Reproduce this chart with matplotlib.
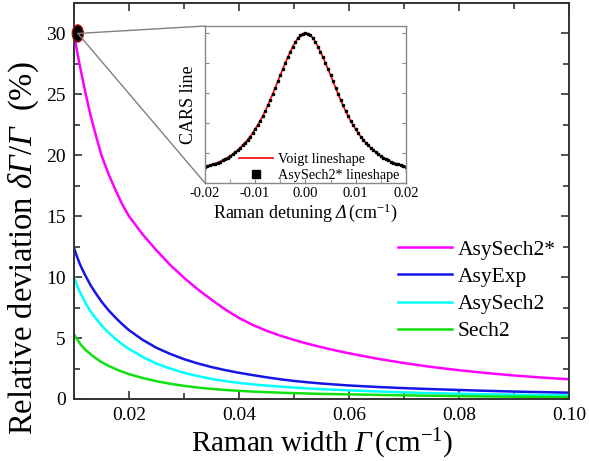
import numpy as np
import matplotlib
matplotlib.use('Agg')
from matplotlib import pyplot as plt
from matplotlib.patches import Ellipse, ConnectionPatch
from matplotlib.ticker import MultipleLocator, NullFormatter

plt.rcParams['font.family'] = ['Liberation Serif', 'DejaVu Serif']
plt.rcParams['mathtext.fontset'] = 'custom'
plt.rcParams['mathtext.rm'] = 'Liberation Serif'
plt.rcParams['mathtext.it'] = 'Liberation Serif:italic'
# italic font under \mathsf so capital Greek letters come out slanted
plt.rcParams['mathtext.sf'] = 'Liberation Serif:italic'
plt.rcParams['axes.unicode_minus'] = False

# Raman width (cm^-1) and relative deviation (%) for each lineshape model
width = [0.010, 0.0105, 0.011, 0.0115, 0.012, 0.013, 0.014, 0.015, 0.01625, 0.0175,
         0.01875, 0.020, 0.0225, 0.025, 0.0275, 0.030, 0.0325, 0.035, 0.0375, 0.040,
         0.0425, 0.045, 0.0475, 0.050, 0.0525, 0.055, 0.0575, 0.060, 0.065, 0.070,
         0.075, 0.080, 0.085, 0.090, 0.095, 0.100]
asysech2_star = [30.0, 28.7, 27.5, 26.4, 25.3, 23.3, 21.6, 20.0, 18.5, 17.2,
                 16.0, 15.0, 13.5, 12.2, 11.0, 9.95, 9.0, 8.15, 7.35, 6.65,
                 6.08, 5.6, 5.2, 4.85, 4.53, 4.25, 3.99, 3.75, 3.32, 2.95,
                 2.63, 2.36, 2.13, 1.93, 1.76, 1.62]
asyexp = [12.4, 11.75, 11.15, 10.65, 10.2, 9.35, 8.65, 8.0, 7.3, 6.7,
          6.15, 5.65, 4.85, 4.2, 3.7, 3.27, 2.92, 2.62, 2.37, 2.15,
          1.96, 1.78, 1.62, 1.48, 1.37, 1.27, 1.19, 1.11, 0.99, 0.89,
          0.81, 0.74, 0.67, 0.61, 0.56, 0.52]
asysech2 = [10.0, 9.4, 8.85, 8.4, 7.95, 7.2, 6.6, 6.05, 5.45, 4.95,
            4.5, 4.1, 3.45, 2.9, 2.5, 2.15, 1.88, 1.65, 1.47, 1.32,
            1.2, 1.1, 1.02, 0.94, 0.87, 0.81, 0.76, 0.71, 0.62, 0.54,
            0.48, 0.43, 0.39, 0.35, 0.32, 0.30]
sech2 = [5.3, 4.95, 4.6, 4.32, 4.08, 3.68, 3.33, 3.03, 2.73, 2.47,
         2.24, 2.04, 1.72, 1.46, 1.25, 1.08, 0.94, 0.83, 0.74, 0.67,
         0.61, 0.56, 0.52, 0.48, 0.45, 0.42, 0.40, 0.38, 0.34, 0.30,
         0.27, 0.24, 0.21, 0.19, 0.17, 0.15]

# inset: CARS line vs Raman detuning (symmetric about zero)
half_detuning = [0.0, 0.0005, 0.001, 0.0015, 0.002, 0.0025, 0.003, 0.0035, 0.004, 0.0045,
                 0.005, 0.0055, 0.006, 0.0065, 0.007, 0.0075, 0.008, 0.0085, 0.009, 0.0095,
                 0.010, 0.0105, 0.011, 0.0115, 0.012, 0.0125, 0.013, 0.0135, 0.014, 0.0145,
                 0.015, 0.0155, 0.016, 0.0165, 0.017, 0.0175, 0.018, 0.0185, 0.019, 0.0195,
                 0.020]
half_line = [1.0, 0.996, 0.985, 0.966, 0.94, 0.91, 0.875, 0.84, 0.80, 0.76,
             0.72, 0.678, 0.635, 0.595, 0.555, 0.517, 0.48, 0.447, 0.415, 0.386,
             0.36, 0.334, 0.31, 0.289, 0.27, 0.252, 0.235, 0.219, 0.205, 0.192,
             0.18, 0.17, 0.16, 0.151, 0.143, 0.136, 0.13, 0.124, 0.118, 0.113,
             0.108]
detuning = [-d for d in half_detuning[:0:-1]] + half_detuning
cars_line = half_line[:0:-1] + half_line

fig = plt.figure(figsize=(5.89, 4.61), dpi=100)
ax = fig.add_axes([0.1256, 0.1345, 0.8404, 0.859])

ax.plot(width, asysech2_star, color='#ff00ff', lw=1.8, label='AsySech2*')
ax.plot(width, asyexp, color='#1515e8', lw=1.8, label='AsyExp')
ax.plot(width, asysech2, color='#00ffff', lw=1.8, label='AsySech2')
ax.plot(width, sech2, color='#10e010', lw=1.8, label='Sech2')

ax.set_xlim(0.01, 0.1)
ax.set_ylim(0, 32.5)
ax.xaxis.set_minor_locator(MultipleLocator(0.01))
ax.yaxis.set_major_locator(MultipleLocator(5))
ax.yaxis.set_minor_locator(MultipleLocator(2.5))
ax.set_xticks([0.02, 0.04, 0.06, 0.08, 0.10])
ax.set_xticklabels(['0.02', '0.04', '0.06', '0.08', '0.10'])
ax.tick_params(which='both', direction='in', top=True, right=True, labelsize=14,
               color='#333333', width=1.2)
ax.tick_params(which='major', length=6, pad=6)
ax.tick_params(which='minor', length=4)
for s in ax.spines.values():
    s.set_linewidth(1.4)
    s.set_color('#333333')

ax.set_xlabel(r'Raman width $\mathsf{\Gamma}\,$(cm$^{-1}$)', fontsize=21, labelpad=2)
ax.set_ylabel(r'Relative deviation $\mathit{\delta}\mathsf{\Gamma}$/$\mathsf{\Gamma}$  (%)',
              fontsize=23.5, labelpad=6)
ax.yaxis.set_label_coords(-0.067, 0.38)

ax.legend(loc='upper right', bbox_to_anchor=(1.0, 0.435), frameon=False, fontsize=15.5,
          handlelength=2.5, handletextpad=0.3, labelspacing=0.33, borderaxespad=0.2)

# highlighted point
ax.add_patch(Ellipse((0.0107, 30), 0.002, 1.4, facecolor='black',
                     edgecolor='#a01010', lw=1, clip_on=False, zorder=5))

# inset
axin = fig.add_axes([0.348, 0.603, 0.341, 0.3406])
axin.plot(detuning, cars_line, color='red', lw=1.2, label='Voigt lineshape')
axin.plot(detuning, cars_line, ls='none', marker='s', ms=2.0, color='black',
          label='AsySech2* lineshape')
axin.set_xlim(-0.02, 0.02)
axin.set_ylim(0, 1.047)
axin.set_xticks([-0.02, -0.01, 0.0, 0.01, 0.02])
axin.set_xticklabels(['-0.02', '-0.01', '0.00', '0.01', '0.02'])
axin.xaxis.set_minor_locator(MultipleLocator(0.005))
axin.yaxis.set_major_locator(MultipleLocator(0.2))
axin.yaxis.set_major_formatter(NullFormatter())
axin.tick_params(which='both', direction='in', right=True, labelsize=10.5,
                 color='#888888', length=3, pad=3)
for s in axin.spines.values():
    s.set_color('#888888')
    s.set_linewidth(1.0)
axin.set_xlabel(r'Raman detuning $\mathsf{\Delta}\,$(cm$^{-1}$)', fontsize=13, labelpad=1)
axin.set_ylabel('CARS line', fontsize=13, labelpad=3)
axin.legend(loc='lower right', bbox_to_anchor=(1.0, -0.035), frameon=False, fontsize=10.2,
            handlelength=2.4, handletextpad=0.35, labelspacing=0.25, borderaxespad=0.05,
            markerscale=2.6)

for corner in [(0, 1), (0, 0)]:
    cp = ConnectionPatch(xyA=(0.0107, 30), coordsA=ax.transData,
                         xyB=corner, coordsB=axin.transAxes,
                         color='#808080', lw=1.0, zorder=4)
    fig.add_artist(cp)

fig.savefig('out.png', dpi=100)
